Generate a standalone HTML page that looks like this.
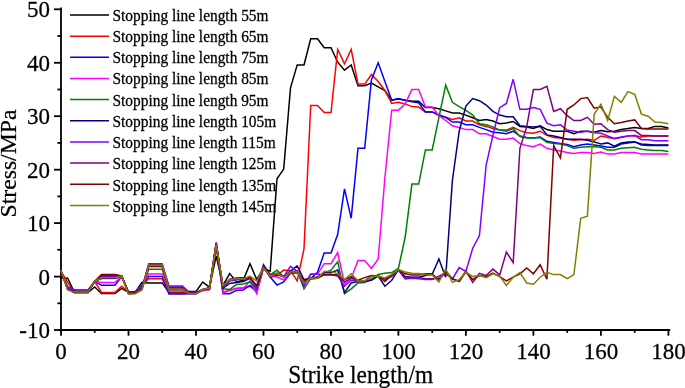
<!DOCTYPE html>
<html><head><meta charset="utf-8"><style>
html,body{margin:0;padding:0;background:#fff;}
body{width:685px;height:388px;overflow:hidden;}
svg{display:block;filter:blur(0.5px);}
text{font-family:"Liberation Serif",serif;fill:#000;stroke:#000;stroke-width:0.25px;}
</style></head><body>
<svg width="685" height="388" viewBox="0 0 685 388">
<g stroke="#000" stroke-width="1.8" stroke-linecap="square">
<line x1="61.0" y1="8.4" x2="61.0" y2="330.9"/>
<line x1="60.1" y1="330.0" x2="669.3" y2="330.0"/>
<line x1="54.9" y1="330.0" x2="61.0" y2="330.0"/>
<line x1="58.3" y1="303.3" x2="61.0" y2="303.3"/>
<line x1="54.9" y1="276.6" x2="61.0" y2="276.6"/>
<line x1="58.3" y1="249.8" x2="61.0" y2="249.8"/>
<line x1="54.9" y1="223.1" x2="61.0" y2="223.1"/>
<line x1="58.3" y1="196.4" x2="61.0" y2="196.4"/>
<line x1="54.9" y1="169.7" x2="61.0" y2="169.7"/>
<line x1="58.3" y1="142.9" x2="61.0" y2="142.9"/>
<line x1="54.9" y1="116.2" x2="61.0" y2="116.2"/>
<line x1="58.3" y1="89.5" x2="61.0" y2="89.5"/>
<line x1="54.9" y1="62.8" x2="61.0" y2="62.8"/>
<line x1="58.3" y1="36.0" x2="61.0" y2="36.0"/>
<line x1="54.9" y1="9.3" x2="61.0" y2="9.3"/>
<line x1="61.0" y1="330.0" x2="61.0" y2="334.8"/>
<line x1="94.7" y1="330.0" x2="94.7" y2="331.9"/>
<line x1="128.5" y1="330.0" x2="128.5" y2="334.8"/>
<line x1="162.2" y1="330.0" x2="162.2" y2="331.9"/>
<line x1="196.0" y1="330.0" x2="196.0" y2="334.8"/>
<line x1="229.7" y1="330.0" x2="229.7" y2="331.9"/>
<line x1="263.5" y1="330.0" x2="263.5" y2="334.8"/>
<line x1="297.2" y1="330.0" x2="297.2" y2="331.9"/>
<line x1="331.0" y1="330.0" x2="331.0" y2="334.8"/>
<line x1="364.7" y1="330.0" x2="364.7" y2="331.9"/>
<line x1="398.4" y1="330.0" x2="398.4" y2="334.8"/>
<line x1="432.2" y1="330.0" x2="432.2" y2="331.9"/>
<line x1="465.9" y1="330.0" x2="465.9" y2="334.8"/>
<line x1="499.7" y1="330.0" x2="499.7" y2="331.9"/>
<line x1="533.4" y1="330.0" x2="533.4" y2="334.8"/>
<line x1="567.2" y1="330.0" x2="567.2" y2="331.9"/>
<line x1="600.9" y1="330.0" x2="600.9" y2="334.8"/>
<line x1="634.7" y1="330.0" x2="634.7" y2="331.9"/>
<line x1="668.4" y1="330.0" x2="668.4" y2="334.8"/>
</g>
<g fill="none" stroke-width="1.5" stroke-linejoin="miter" stroke-linecap="butt">
<polyline points="61.0,278.2 67.7,278.2 74.5,292.6 81.2,292.6 88.0,292.6 94.7,287.0 101.5,293.5 108.2,293.5 115.0,293.5 121.7,288.3 128.5,292.6 135.2,292.1 142.0,282.4 148.7,282.9 155.5,282.9 162.2,282.9 169.0,292.5 175.7,292.5 182.5,292.5 189.2,291.5 196.0,291.5 202.7,282.1 209.5,287.2 216.2,256.2 223.0,285.4 229.7,273.6 236.5,281.9 243.2,280.3 250.0,263.6 256.7,279.5 263.5,268.5 270.2,271.2 277.0,178.7 283.7,169.1 290.5,87.9 297.2,64.9 304.0,64.9 310.7,38.7 317.5,38.7 324.2,47.8 331.0,47.8 337.7,62.2 344.5,70.2 351.2,64.9 358.0,85.7 364.7,85.7 371.4,83.1 378.2,86.8 384.9,90.5 391.7,100.2 398.4,99.1 405.2,100.2 411.9,101.2 418.7,101.2 425.4,107.6 432.2,107.6 438.9,108.7 445.7,110.9 452.4,113.0 459.2,113.0 465.9,115.1 472.7,117.8 479.4,120.5 486.2,119.4 492.9,121.0 499.7,123.7 506.4,123.1 513.2,121.5 519.9,126.4 526.7,126.9 533.4,128.5 540.2,125.8 546.9,129.6 553.7,131.2 560.4,131.2 567.2,131.2 573.9,133.8 580.7,131.2 587.4,131.2 594.2,132.2 600.9,130.6 607.7,131.7 614.4,131.2 621.2,129.6 627.9,128.5 634.7,127.4 641.4,128.5 648.2,128.5 654.9,126.4 661.7,126.4 668.4,128.0" stroke="#000000"/>
<polyline points="61.0,271.2 67.7,282.4 74.5,292.1 81.2,292.1 88.0,292.1 94.7,281.4 101.5,292.4 108.2,292.4 115.0,292.4 121.7,286.3 128.5,292.1 135.2,291.5 142.0,285.1 148.7,278.7 155.5,278.7 162.2,278.7 169.0,293.0 175.7,293.0 182.5,293.0 189.2,293.1 196.0,293.1 202.7,290.4 209.5,288.8 216.2,247.2 223.0,292.1 229.7,290.4 236.5,288.3 243.2,287.8 250.0,286.2 256.7,290.4 263.5,266.9 270.2,277.2 277.0,275.5 283.7,270.1 290.5,270.7 297.2,280.8 304.0,248.8 310.7,105.5 317.5,105.5 324.2,112.5 331.0,112.5 337.7,49.4 344.5,63.8 351.2,49.4 358.0,84.1 364.7,84.1 371.4,74.5 378.2,81.5 384.9,90.5 391.7,103.4 398.4,102.3 405.2,103.9 411.9,106.6 418.7,107.1 425.4,111.9 432.2,111.9 438.9,115.7 445.7,117.3 452.4,119.4 459.2,117.8 465.9,121.0 472.7,121.0 479.4,124.8 486.2,126.4 492.9,128.5 499.7,130.1 506.4,130.1 513.2,127.4 519.9,130.6 526.7,132.8 533.4,133.3 540.2,131.2 546.9,135.4 553.7,137.6 560.4,138.1 567.2,139.2 573.9,140.3 580.7,139.7 587.4,139.2 594.2,140.3 600.9,136.0 607.7,137.6 614.4,138.6 621.2,137.6 627.9,136.0 634.7,135.4 641.4,137.0 648.2,136.0 654.9,136.0 661.7,136.0 668.4,136.0" stroke="#ff0000"/>
<polyline points="61.0,271.2 67.7,286.7 74.5,289.9 81.2,289.9 88.0,289.9 94.7,281.4 101.5,285.3 108.2,285.3 115.0,285.3 121.7,276.6 128.5,292.1 135.2,291.5 142.0,285.6 148.7,276.4 155.5,276.4 162.2,276.4 169.0,294.1 175.7,294.1 182.5,294.1 189.2,293.7 196.0,293.7 202.7,290.4 209.5,288.8 216.2,244.5 223.0,293.7 229.7,293.7 236.5,290.4 243.2,289.9 250.0,285.4 256.7,292.1 263.5,267.5 270.2,277.1 277.0,285.1 283.7,281.9 290.5,273.3 297.2,272.8 304.0,279.8 310.7,278.7 317.5,272.3 324.2,253.0 331.0,253.0 337.7,234.3 344.5,188.9 351.2,218.3 358.0,148.3 364.7,148.3 371.4,79.9 378.2,62.8 384.9,81.5 391.7,100.2 398.4,98.6 405.2,100.2 411.9,101.8 418.7,102.8 425.4,111.9 432.2,111.9 438.9,114.6 445.7,117.3 452.4,122.1 459.2,122.1 465.9,124.8 472.7,124.8 479.4,127.4 486.2,129.6 492.9,132.2 499.7,132.8 506.4,133.8 513.2,131.2 519.9,136.0 526.7,137.6 533.4,138.1 540.2,137.0 546.9,141.3 553.7,142.4 560.4,143.5 567.2,144.5 573.9,146.7 580.7,145.1 587.4,144.0 594.2,145.1 600.9,146.1 607.7,147.2 614.4,147.2 621.2,144.0 627.9,142.9 634.7,141.9 641.4,145.1 648.2,145.6 654.9,145.6 661.7,145.6 668.4,145.6" stroke="#0000ff"/>
<polyline points="61.0,271.2 67.7,287.8 74.5,291.0 81.2,291.0 88.0,291.0 94.7,281.4 101.5,282.4 108.2,282.4 115.0,282.4 121.7,276.6 128.5,292.1 135.2,291.5 142.0,286.7 148.7,273.9 155.5,273.9 162.2,273.9 169.0,290.9 175.7,290.9 182.5,290.9 189.2,293.1 196.0,293.1 202.7,290.4 209.5,289.9 216.2,242.3 223.0,293.1 229.7,290.4 236.5,288.8 243.2,288.8 250.0,281.1 256.7,293.7 263.5,268.0 270.2,276.0 277.0,277.1 283.7,279.8 290.5,272.3 297.2,271.7 304.0,285.1 310.7,274.4 317.5,274.1 324.2,263.7 331.0,263.7 337.7,252.6 344.5,284.0 351.2,278.4 358.0,260.5 364.7,260.5 371.4,268.5 378.2,258.9 384.9,177.7 391.7,110.3 398.4,110.3 405.2,103.9 411.9,89.5 418.7,89.5 425.4,107.1 432.2,107.1 438.9,115.7 445.7,120.5 452.4,125.8 459.2,127.4 465.9,129.6 472.7,129.6 479.4,133.8 486.2,133.8 492.9,136.5 499.7,139.2 506.4,139.2 513.2,138.1 519.9,143.5 526.7,145.6 533.4,146.7 540.2,144.0 546.9,148.3 553.7,149.9 560.4,150.9 567.2,152.5 573.9,153.6 580.7,152.5 587.4,152.5 594.2,153.6 600.9,152.0 607.7,154.1 614.4,154.1 621.2,152.5 627.9,152.5 634.7,152.5 641.4,154.1 648.2,154.1 654.9,154.1 661.7,154.1 668.4,154.1" stroke="#ff00ff"/>
<polyline points="61.0,271.2 67.7,288.8 74.5,291.5 81.2,291.5 88.0,291.5 94.7,281.4 101.5,278.6 108.2,278.6 115.0,278.6 121.7,276.0 128.5,292.6 135.2,292.1 142.0,287.2 148.7,269.2 155.5,269.2 162.2,269.2 169.0,289.7 175.7,289.7 182.5,289.7 189.2,293.1 196.0,293.1 202.7,289.9 209.5,288.3 216.2,245.5 223.0,288.8 229.7,289.4 236.5,284.6 243.2,284.0 250.0,281.9 256.7,289.4 263.5,266.9 270.2,274.9 277.0,270.1 283.7,276.7 290.5,272.3 297.2,270.7 304.0,288.8 310.7,278.7 317.5,278.2 324.2,272.8 331.0,270.1 337.7,261.6 344.5,293.7 351.2,288.8 358.0,283.0 364.7,282.4 371.4,279.2 378.2,274.4 384.9,273.3 391.7,272.6 398.4,268.5 405.2,237.0 411.9,184.1 418.7,184.1 425.4,149.9 432.2,149.9 438.9,117.3 445.7,85.2 452.4,102.3 459.2,106.6 465.9,110.3 472.7,115.1 479.4,123.7 486.2,124.8 492.9,126.9 499.7,130.1 506.4,131.2 513.2,128.5 519.9,136.5 526.7,138.1 533.4,138.1 540.2,137.6 546.9,142.4 553.7,143.5 560.4,144.0 567.2,145.6 573.9,148.3 580.7,147.2 587.4,146.7 594.2,146.7 600.9,147.2 607.7,149.9 614.4,149.9 621.2,148.3 627.9,147.7 634.7,147.2 641.4,149.3 648.2,149.9 654.9,150.4 661.7,150.4 668.4,151.5" stroke="#008000"/>
<polyline points="61.0,271.2 67.7,288.8 74.5,291.5 81.2,291.5 88.0,291.5 94.7,281.4 101.5,278.2 108.2,278.2 115.0,278.2 121.7,276.0 128.5,292.6 135.2,292.1 142.0,287.8 148.7,265.9 155.5,265.9 162.2,265.9 169.0,287.3 175.7,287.3 182.5,287.3 189.2,293.1 196.0,293.1 202.7,289.9 209.5,288.3 216.2,243.4 223.0,288.3 229.7,283.5 236.5,282.4 243.2,281.4 250.0,278.2 256.7,287.2 263.5,264.8 270.2,274.9 277.0,273.3 283.7,276.7 290.5,271.2 297.2,265.9 304.0,279.8 310.7,278.2 317.5,277.1 324.2,272.6 331.0,272.6 337.7,270.1 344.5,292.6 351.2,283.0 358.0,281.4 364.7,281.4 371.4,280.3 378.2,276.0 384.9,286.2 391.7,280.3 398.4,269.6 405.2,276.6 411.9,277.2 418.7,277.2 425.4,275.5 432.2,274.4 438.9,258.9 445.7,277.2 452.4,180.3 459.2,131.2 465.9,106.0 472.7,98.6 479.4,100.7 486.2,105.0 492.9,111.4 499.7,115.1 506.4,116.7 513.2,116.7 519.9,125.8 526.7,126.4 533.4,126.9 540.2,126.4 546.9,134.9 553.7,136.0 560.4,137.6 567.2,139.2 573.9,139.2 580.7,139.2 587.4,140.3 594.2,141.9 600.9,144.0 607.7,142.9 614.4,146.1 621.2,142.9 627.9,141.9 634.7,141.9 641.4,144.0 648.2,144.5 654.9,145.1 661.7,145.1 668.4,145.1" stroke="#000080"/>
<polyline points="61.0,271.2 67.7,288.8 74.5,292.1 81.2,292.1 88.0,292.1 94.7,281.4 101.5,276.8 108.2,276.8 115.0,276.8 121.7,276.0 128.5,293.1 135.2,292.6 142.0,288.3 148.7,263.7 155.5,263.7 162.2,263.7 169.0,286.1 175.7,286.1 182.5,286.1 189.2,292.3 196.0,292.3 202.7,289.4 209.5,287.8 216.2,242.9 223.0,287.2 229.7,281.1 236.5,279.8 243.2,279.2 250.0,278.2 256.7,288.3 263.5,266.4 270.2,274.9 277.0,273.3 283.7,276.6 290.5,266.4 297.2,271.2 304.0,286.2 310.7,274.1 317.5,274.1 324.2,274.9 331.0,274.4 337.7,276.1 344.5,286.2 351.2,280.3 358.0,281.4 364.7,281.4 371.4,276.6 378.2,276.0 384.9,279.2 391.7,276.6 398.4,270.1 405.2,279.0 411.9,278.2 418.7,278.7 425.4,279.6 432.2,279.6 438.9,276.1 445.7,272.6 452.4,279.0 459.2,267.5 465.9,271.4 472.7,248.2 479.4,235.9 486.2,164.8 492.9,135.4 499.7,107.6 506.4,103.4 513.2,79.3 519.9,109.3 526.7,109.3 533.4,107.6 540.2,109.3 546.9,123.1 553.7,125.8 560.4,124.8 567.2,130.1 573.9,131.2 580.7,132.2 587.4,131.2 594.2,132.8 600.9,133.3 607.7,136.0 614.4,138.6 621.2,137.0 627.9,136.0 634.7,135.4 641.4,139.7 648.2,139.7 654.9,140.8 661.7,140.8 668.4,140.8" stroke="#8000ff"/>
<polyline points="61.0,271.2 67.7,289.4 74.5,292.6 81.2,292.6 88.0,292.6 94.7,281.4 101.5,275.6 108.2,275.6 115.0,275.6 121.7,276.0 128.5,293.1 135.2,292.6 142.0,288.8 148.7,264.7 155.5,264.7 162.2,264.7 169.0,287.7 175.7,287.7 182.5,287.7 189.2,293.4 196.0,293.4 202.7,289.4 209.5,287.8 216.2,243.9 223.0,286.7 229.7,279.5 236.5,277.9 243.2,277.8 250.0,277.8 256.7,286.2 263.5,266.9 270.2,275.5 277.0,273.9 283.7,276.8 290.5,271.2 297.2,271.7 304.0,281.9 310.7,278.2 317.5,278.2 324.2,274.7 331.0,274.4 337.7,274.9 344.5,281.9 351.2,278.2 358.0,280.8 364.7,280.8 371.4,276.0 378.2,276.0 384.9,279.2 391.7,275.5 398.4,270.1 405.2,278.2 411.9,277.6 418.7,277.6 425.4,278.7 432.2,278.7 438.9,278.2 445.7,273.9 452.4,278.7 459.2,281.4 465.9,270.7 472.7,282.4 479.4,273.3 486.2,275.5 492.9,269.1 499.7,274.9 506.4,252.0 513.2,262.7 519.9,148.3 526.7,126.9 533.4,89.5 540.2,89.5 546.9,86.3 553.7,111.4 560.4,108.7 567.2,115.7 573.9,120.5 580.7,120.5 587.4,117.3 594.2,124.2 600.9,123.7 607.7,129.6 614.4,132.2 621.2,131.2 627.9,130.6 634.7,130.6 641.4,135.4 648.2,135.4 654.9,136.0 661.7,136.0 668.4,136.0" stroke="#800080"/>
<polyline points="61.0,271.2 67.7,289.4 74.5,292.6 81.2,292.6 88.0,292.6 94.7,281.4 101.5,274.6 108.2,274.6 115.0,274.6 121.7,276.0 128.5,293.7 135.2,293.1 142.0,289.4 148.7,266.6 155.5,266.6 162.2,266.6 169.0,288.5 175.7,288.5 182.5,288.5 189.2,293.4 196.0,293.4 202.7,289.9 209.5,287.8 216.2,245.0 223.0,286.2 229.7,279.5 236.5,278.3 243.2,277.8 250.0,277.8 256.7,285.4 263.5,267.5 270.2,276.0 277.0,274.9 283.7,276.7 290.5,272.3 297.2,272.3 304.0,280.8 310.7,278.7 317.5,278.2 324.2,274.4 331.0,274.4 337.7,275.5 344.5,279.6 351.2,276.7 358.0,280.3 364.7,277.6 371.4,275.5 378.2,276.0 384.9,281.4 391.7,274.9 398.4,269.6 405.2,273.8 411.9,274.9 418.7,274.9 425.4,273.8 432.2,273.8 438.9,280.2 445.7,270.8 452.4,279.0 459.2,281.4 465.9,272.0 472.7,279.6 479.4,275.5 486.2,276.6 492.9,273.2 499.7,276.6 506.4,280.8 513.2,277.2 519.9,273.8 526.7,268.0 533.4,273.8 540.2,264.8 546.9,279.2 553.7,145.6 560.4,157.9 567.2,109.3 573.9,105.0 580.7,98.6 587.4,97.5 594.2,108.2 600.9,107.1 607.7,117.3 614.4,123.7 621.2,122.6 627.9,121.0 634.7,119.9 641.4,128.5 648.2,129.0 654.9,129.0 661.7,129.0 668.4,129.0" stroke="#800000"/>
<polyline points="61.0,270.1 67.7,289.9 74.5,292.1 81.2,292.1 88.0,292.1 94.7,281.4 101.5,277.8 108.2,277.8 115.0,277.8 121.7,276.0 128.5,294.2 135.2,293.7 142.0,289.9 148.7,265.3 155.5,265.3 162.2,265.3 169.0,289.0 175.7,289.0 182.5,289.0 189.2,293.7 196.0,293.7 202.7,289.9 209.5,287.8 216.2,245.0 223.0,285.6 229.7,280.0 236.5,278.3 243.2,279.0 250.0,276.1 256.7,281.1 263.5,268.0 270.2,276.2 277.0,273.3 283.7,277.1 290.5,272.1 297.2,271.7 304.0,283.0 310.7,278.2 317.5,278.2 324.2,271.4 331.0,271.4 337.7,273.8 344.5,279.6 351.2,273.8 358.0,280.8 364.7,280.8 371.4,276.6 378.2,276.0 384.9,277.9 391.7,274.4 398.4,269.6 405.2,272.0 411.9,273.2 418.7,273.6 425.4,274.4 432.2,274.9 438.9,281.9 445.7,269.1 452.4,282.4 459.2,279.6 465.9,272.0 472.7,276.6 479.4,275.5 486.2,277.8 492.9,273.8 499.7,276.1 506.4,285.4 513.2,277.2 519.9,272.6 526.7,283.0 533.4,284.2 540.2,277.2 546.9,272.3 553.7,274.6 560.4,274.6 567.2,278.7 573.9,274.6 580.7,218.3 587.4,216.2 594.2,114.1 600.9,104.4 607.7,120.5 614.4,96.4 621.2,102.3 627.9,91.6 634.7,94.3 641.4,114.1 648.2,116.2 654.9,122.1 661.7,122.6 668.4,123.7" stroke="#808000"/>
</g>
<g font-size="23">
<text transform="translate(50,338.0) scale(1,1.04)" text-anchor="end">-10</text>
<text transform="translate(50,284.6) scale(1,1.04)" text-anchor="end">0</text>
<text transform="translate(50,231.1) scale(1,1.04)" text-anchor="end">10</text>
<text transform="translate(50,177.7) scale(1,1.04)" text-anchor="end">20</text>
<text transform="translate(50,124.2) scale(1,1.04)" text-anchor="end">30</text>
<text transform="translate(50,70.8) scale(1,1.04)" text-anchor="end">40</text>
<text transform="translate(50,17.3) scale(1,1.04)" text-anchor="end">50</text>
<text transform="translate(61.0,359) scale(1,1.04)" text-anchor="middle">0</text>
<text transform="translate(128.5,359) scale(1,1.04)" text-anchor="middle">20</text>
<text transform="translate(196.0,359) scale(1,1.04)" text-anchor="middle">40</text>
<text transform="translate(263.5,359) scale(1,1.04)" text-anchor="middle">60</text>
<text transform="translate(331.0,359) scale(1,1.04)" text-anchor="middle">80</text>
<text transform="translate(398.4,359) scale(1,1.04)" text-anchor="middle">100</text>
<text transform="translate(465.9,359) scale(1,1.04)" text-anchor="middle">120</text>
<text transform="translate(533.4,359) scale(1,1.04)" text-anchor="middle">140</text>
<text transform="translate(600.9,359) scale(1,1.04)" text-anchor="middle">160</text>
<text transform="translate(668.4,359) scale(1,1.04)" text-anchor="middle">180</text>
<text transform="translate(288.3,382.8) scale(1,1.035)" font-size="23.4">Strike length/m</text>
<text transform="translate(16.0,163.5) rotate(-90)" text-anchor="middle" font-size="23.7">Stress/MPa</text>
</g>
<g stroke-width="1.5">
<line x1="70" y1="15.0" x2="109" y2="15.0" stroke="#000000"/>
<line x1="70" y1="36.2" x2="109" y2="36.2" stroke="#ff0000"/>
<line x1="70" y1="57.3" x2="109" y2="57.3" stroke="#0000ff"/>
<line x1="70" y1="78.5" x2="109" y2="78.5" stroke="#ff00ff"/>
<line x1="70" y1="99.6" x2="109" y2="99.6" stroke="#008000"/>
<line x1="70" y1="120.8" x2="109" y2="120.8" stroke="#000080"/>
<line x1="70" y1="142.0" x2="109" y2="142.0" stroke="#8000ff"/>
<line x1="70" y1="163.1" x2="109" y2="163.1" stroke="#800080"/>
<line x1="70" y1="184.3" x2="109" y2="184.3" stroke="#800000"/>
<line x1="70" y1="205.4" x2="109" y2="205.4" stroke="#808000"/>
</g>
<g font-size="15.4">
<text transform="translate(112.5,20.50) scale(1,1.07)">Stopping line length 55m</text>
<text transform="translate(112.5,41.77) scale(1,1.07)">Stopping line length 65m</text>
<text transform="translate(112.5,63.04) scale(1,1.07)">Stopping line length 75m</text>
<text transform="translate(112.5,84.31) scale(1,1.07)">Stopping line length 85m</text>
<text transform="translate(112.5,105.58) scale(1,1.07)">Stopping line length 95m</text>
<text transform="translate(112.5,126.85) scale(1,1.07)">Stopping line length 105m</text>
<text transform="translate(112.5,148.12) scale(1,1.07)">Stopping line length 115m</text>
<text transform="translate(112.5,169.39) scale(1,1.07)">Stopping line length 125m</text>
<text transform="translate(112.5,190.66) scale(1,1.07)">Stopping line length 135m</text>
<text transform="translate(112.5,211.93) scale(1,1.07)">Stopping line length 145m</text>
</g>
</svg>
</body></html>
